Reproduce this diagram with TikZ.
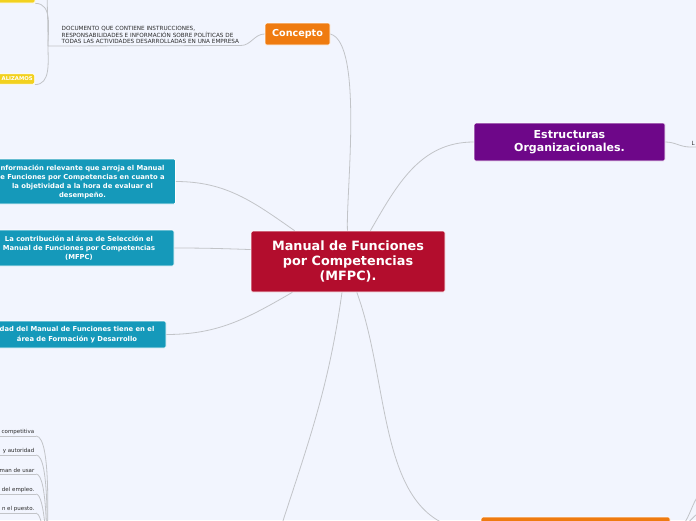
\documentclass[tikz,border=0pt]{standalone}
\usepackage{fontspec}
\setsansfont{DejaVu Sans}
\usetikzlibrary{positioning}

\definecolor{fondo}{HTML}{F2F5FE}
\definecolor{linea}{HTML}{C2C4C8}
\definecolor{rojo}{HTML}{B30D2D}
\definecolor{naranja}{HTML}{EF7B10}
\definecolor{morado}{HTML}{6E0789}
\definecolor{turquesa}{HTML}{1599BA}
\definecolor{amarillo}{HTML}{F2D11F}
\definecolor{letra}{HTML}{2B2B2B}

\begin{document}
\begin{tikzpicture}[x=1pt,y=-1pt,
  caja/.style={rounded corners=1.5pt, draw=white, line width=0.7pt, text=white, align=center, inner sep=0pt},
  rama/.style={draw=linea, line width=0.8pt},
  texto/.style={text=letra, align=left, inner sep=1.5pt, font=\sffamily\fontsize{5.7}{6.4}\selectfont}]
  \useasboundingbox (0,0) rectangle (696,520);
  \fill[fondo] (0,0) rectangle (696,520);
  \clip (0,0) rectangle (696,520);

  % nodo central
  \node[caja, fill=rojo, minimum width=194pt, minimum height=61pt, font=\sffamily\bfseries\fontsize{12.8}{15}\selectfont] (mfpc) at (348,261.5) {Manual de Funciones\\por Competencias\\(MFPC).};

  % ramas principales
  \node[caja, fill=naranja, minimum width=65pt, minimum height=22pt, font=\sffamily\bfseries\fontsize{9.6}{12}\selectfont] (concepto) at (297.5,34) {Concepto};
  \node[caja, fill=morado, minimum width=191pt, minimum height=38pt, font=\sffamily\bfseries\fontsize{11}{13.5}\selectfont] (estructuras) at (569.5,142) {Estructuras\\Organizacionales.};
  \node[caja, fill=naranja, minimum width=189pt, minimum height=28pt] (ultimo) at (575.5,531) {};

  \node[caja, fill=turquesa, minimum width=186pt, minimum height=45pt, font=\sffamily\bfseries\fontsize{6.8}{9}\selectfont] (informacion) at (82.5,181.5) {nformación relevante que arroja el Manual\\e Funciones por Competencias en cuanto a\\la objetividad a la hora de evaluar el\\desempeño.};
  \node[caja, fill=turquesa, minimum width=190pt, minimum height=36pt, font=\sffamily\bfseries\fontsize{6.8}{9}\selectfont] (seleccion) at (79,248) {La contribución al área de Selección el\\Manual de Funciones por Competencias\\(MFPC)};
  \node[caja, fill=turquesa, minimum width=178pt, minimum height=27pt, font=\sffamily\bfseries\fontsize{6.8}{9.5}\selectfont] (formacion) at (77,334.5) {dad del Manual de Funciones tiene en el\\área de Formación y Desarrollo};

  % hijos de Concepto
  \node[texto, anchor=south west] (definicion) at (60,45.5) {DOCUMENTO QUE CONTIENE INSTRUCCIONES,\\RESPONSABILIDADES E INFORMACIÓN SOBRE POLÍTICAS DE\\TODAS LAS ACTIVIDADES DESARROLLADAS EN UNA EMPRESA};
  \coordinate (nudo) at (48,46);
  \coordinate (arriba) at (47,-20);
  \node[caja, fill=amarillo, minimum width=50pt, minimum height=11pt] (amarillo1) at (10,-2.5) {};
  \node[caja, fill=amarillo, anchor=east, text width=40pt, align=right, inner xsep=2pt, minimum height=10.5pt, font=\sffamily\bfseries\fontsize{5.3}{6}\selectfont] (alizamos) at (35,79) {ALIZAMOS};

  % hijo de Estructuras
  \node[texto, anchor=south west] (letraL) at (690,147) {L};

  % conectores
  \draw[rama] (mfpc.91) to[out=93,in=-15,looseness=0.45] (concepto.east);
  \draw[rama] (mfpc.54) to[out=60,in=180] (estructuras.west);
  \draw[rama] (mfpc.150) to[out=145,in=0] (informacion.east);
  \draw[rama] (mfpc.173) to[out=178,in=0] (seleccion.east);
  \draw[rama] (mfpc.209) to[out=210,in=0] (formacion.east);
  \coordinate (abajo) at (280,530);
  \draw[rama] (mfpc.259) to[out=262,in=72] (abajo);
  \draw[rama] (mfpc.286) to[out=290,in=180] (ultimo.west);

  \draw[rama] (concepto.west) to[out=180,in=0] (definicion.south east) -- (nudo);
  \draw[rama] (nudo) to[out=90,in=-90] (arriba);
  \draw[rama] (nudo) to[out=90,in=0] (amarillo1.south east);
  \draw[rama] (nudo) to[out=-90,in=0] (alizamos.south east);
  \draw[rama] (estructuras.east) to[out=0,in=180] (letraL.south west) -- (letraL.south east);

  % lista inferior izquierda
  \coordinate (raiz) at (47,560);
  \foreach \t/\y [count=\i] in {competitiva/436, y autoridad/455, man de usar/474, del empleo./494, n el puesto./513} {
    \node[texto, anchor=south east, font=\sffamily\fontsize{5.5}{6.4}\selectfont] (lista\i) at (36,\y) {\t};
    \draw[rama] (lista\i.south east) -- ++(-50,0);
    \draw[rama] (lista\i.south east) to[out=0,in=92,looseness=0.35] (raiz);
  }

  % hijos del ultimo nodo
  \coordinate (hijo1) at (712,488);
  \coordinate (hijo2) at (712,508);
  \draw[rama] (ultimo.east) to[out=0,in=180] (hijo1);
  \draw[rama] (ultimo.east) to[out=0,in=180] (hijo2);
\end{tikzpicture}
\end{document}
